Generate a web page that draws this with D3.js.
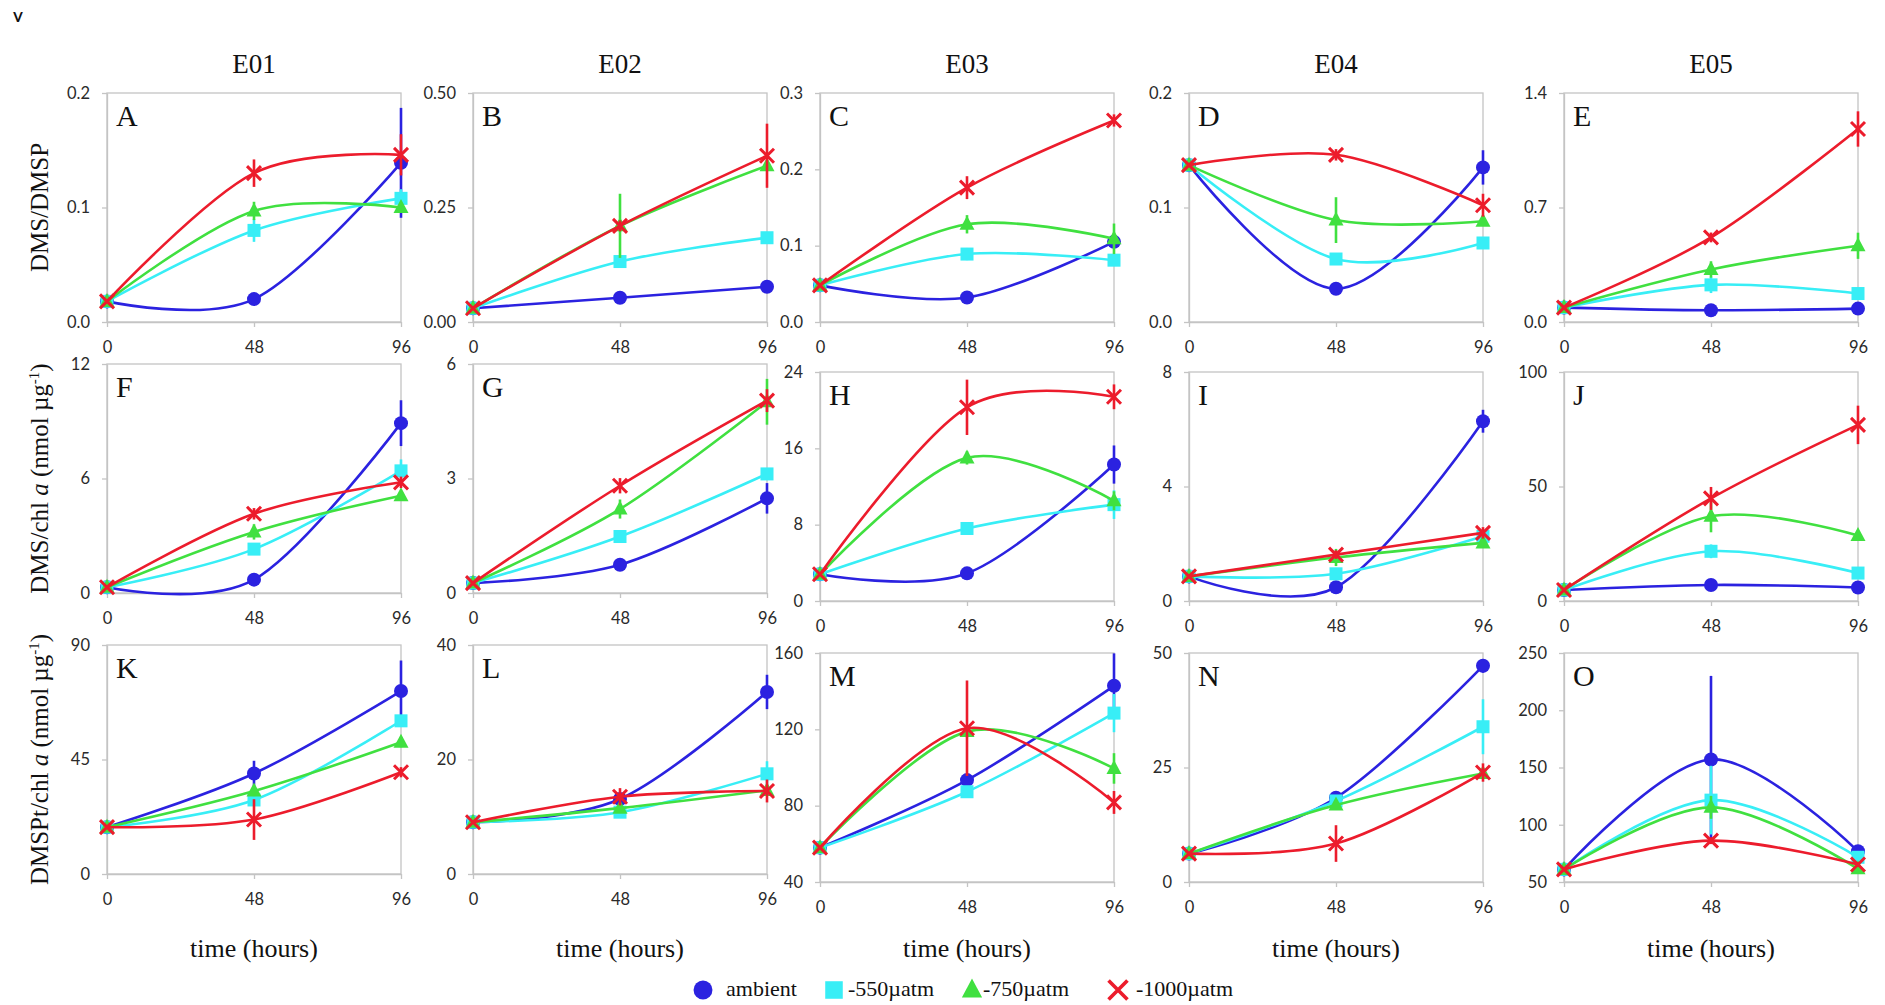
<!DOCTYPE html>
<html><head><meta charset="utf-8">
<script src="https://cdn.jsdelivr.net/npm/d3@7"></script>
<style>body{margin:0;background:#fff}svg{display:block}</style>
</head><body>
<svg id="chart" width="1885" height="1005"></svg>
<script>
// ---------------- data ----------------
const hours = [0, 48, 96];
const seriesNames = ["ambient", "-550µatm", "-750µatm", "-1000µatm"];
const experiments = ["E01", "E02", "E03", "E04", "E05"];
const panelLetters = [["A","B","C","D","E"],["F","G","H","I","J"],["K","L","M","N","O"]];

// Row 1: DMS/DMSP   (series order: ambient, -550, -750, -1000)
const valuesA = [[0.018,0.020,0.139],[0.018,0.080,0.108],[0.018,0.097,0.100],[0.018,0.130,0.146]];
const errorsA = [[0,0.003,0.048],[0,0.010,0.008],[0,0.008,0.004],[0,0.012,0.018]];
const ticksA = [0,0.1,0.2]; const tickLabelsA = ["0.0","0.1","0.2"];

const valuesB = [[0.03,0.053,0.077],[0.03,0.132,0.184],[0.03,0.21,0.341],[0.03,0.21,0.363]];
const errorsB = [[0,0.005,0.008],[0,0.008,0.010],[0,0.07,0.010],[0,0.012,0.07]];
const ticksB = [0,0.25,0.5]; const tickLabelsB = ["0.00","0.25","0.50"];

const valuesC = [[0.048,0.032,0.105],[0.048,0.089,0.081],[0.048,0.128,0.109],[0.048,0.176,0.264]];
const errorsC = [[0,0.004,0.008],[0,0.008,0.006],[0,0.012,0.020],[0,0.015,0.008]];
const ticksC = [0,0.1,0.2,0.3]; const tickLabelsC = ["0.0","0.1","0.2","0.3"];

const valuesD = [[0.137,0.029,0.135],[0.137,0.055,0.069],[0.137,0.089,0.088],[0.137,0.146,0.102]];
const errorsD = [[0,0.004,0.015],[0,0.005,0.004],[0,0.020,0.004],[0,0.005,0.010]];
const ticksD = [0,0.1,0.2]; const tickLabelsD = ["0.0","0.1","0.2"];

const valuesE = [[0.088,0.072,0.082],[0.088,0.227,0.174],[0.088,0.321,0.466],[0.088,0.517,1.18]];
const errorsE = [[0,0.01,0.01],[0,0.05,0.02],[0,0.05,0.08],[0,0.03,0.108]];
const ticksE = [0,0.7,1.4]; const tickLabelsE = ["0.0","0.7","1.4"];

// Row 2: DMS/chl a
const valuesF = [[0.3,0.7,8.9],[0.3,2.3,6.4],[0.3,3.2,5.1],[0.3,4.15,5.8]];
const errorsF = [[0,0.1,1.2],[0,0.3,0.6],[0,0.4,0.2],[0,0.3,0.3]];
const ticksF = [0,6,12]; const tickLabelsF = ["0","6","12"];

const valuesG = [[0.26,0.74,2.48],[0.26,1.48,3.12],[0.26,2.2,5.01],[0.26,2.81,5.04]];
const errorsG = [[0,0.05,0.4],[0,0.1,0.1],[0,0.25,0.6],[0,0.2,0.3]];
const ticksG = [0,3,6]; const tickLabelsG = ["0","3","6"];

const valuesH = [[2.8,2.9,14.3],[2.8,7.6,10.1],[2.8,15.0,10.5],[2.8,20.3,21.4]];
const errorsH = [[0,0.3,2.0],[0,0.6,1.5],[0,0.7,1.0],[0,2.9,1.3]];
const ticksH = [0,8,16,24]; const tickLabelsH = ["0","8","16","24"];

const valuesI = [[0.86,0.48,6.28],[0.86,0.95,2.26],[0.86,1.52,2.03],[0.86,1.62,2.38]];
const errorsI = [[0,0.1,0.4],[0,0.1,0.25],[0,0.3,0.1],[0,0.15,0.2]];
const ticksI = [0,4,8]; const tickLabelsI = ["0","4","8"];

const valuesJ = [[4.8,7.0,5.9],[4.8,21.7,12.2],[4.8,37.0,28.6],[4.8,44.8,76.9]];
const errorsJ = [[0,1,1],[0,3,1],[0,7,2],[0,5,8.4]];
const ticksJ = [0,50,100]; const tickLabelsJ = ["0","50","100"];

// Row 3: DMSPt/chl a
const valuesK = [[18.4,39.5,71.9],[18.4,29.1,60.2],[18.4,32.6,51.8],[18.4,21.4,40.0]];
const errorsK = [[0,5,12],[0,2,2],[0,2,2],[0,8,2]];
const ticksK = [0,45,90]; const tickLabelsK = ["0","45","90"];

const valuesL = [[9.05,13.1,31.8],[9.05,10.8,17.5],[9.05,11.5,14.6],[9.05,13.5,14.5]];
const errorsL = [[0,1,3],[0,0.5,2.2],[0,0.8,0.8],[0,1.5,2]];
const ticksL = [0,20,40]; const tickLabelsL = ["0","20","40"];

const valuesM = [[58,93.4,142.8],[58,87.3,128.5],[58,118.8,99.5],[58,120.6,81.7]];
const errorsM = [[0,3,17],[0,2,10],[0,3,8],[0,25,6]];
const ticksM = [40,80,120,160]; const tickLabelsM = ["40","80","120","160"];

const valuesN = [[6.2,18.4,47.2],[6.2,17.7,33.9],[6.2,16.8,23.7],[6.2,8.4,23.9]];
const errorsN = [[0,1,1.5],[0,1,6],[0,1,1],[0,4,2]];
const ticksN = [0,25,50]; const tickLabelsN = ["0","25","50"];

const valuesO = [[61,157,76.8],[61,121.5,71.6],[61,115.2,61.5],[61,86.1,65.3]];
const errorsO = [[0,73,3],[0,30,3],[0,10,2],[0,3,2]];
const ticksO = [50,100,150,200,250]; const tickLabelsO = ["50","100","150","200","250"];

const panelRows = [
  [[valuesA,errorsA,ticksA,tickLabelsA],[valuesB,errorsB,ticksB,tickLabelsB],[valuesC,errorsC,ticksC,tickLabelsC],[valuesD,errorsD,ticksD,tickLabelsD],[valuesE,errorsE,ticksE,tickLabelsE]],
  [[valuesF,errorsF,ticksF,tickLabelsF],[valuesG,errorsG,ticksG,tickLabelsG],[valuesH,errorsH,ticksH,tickLabelsH],[valuesI,errorsI,ticksI,tickLabelsI],[valuesJ,errorsJ,ticksJ,tickLabelsJ]],
  [[valuesK,errorsK,ticksK,tickLabelsK],[valuesL,errorsL,ticksL,tickLabelsL],[valuesM,errorsM,ticksM,tickLabelsM],[valuesN,errorsN,ticksN,tickLabelsN],[valuesO,errorsO,ticksO,tickLabelsO]]
];

// ---------------- layout & style ----------------
const colLeft = [107, 473, 820, 1189, 1564];
const rowTopLeftCols = [93, 364, 645];
const rowTopRightCols = [93, 372, 653];
const panelW = 294, panelH = 229;
const colors = ["#2b22e0", "#38eef6", "#40e040", "#ec1c2c"];
const serif = "'Liberation Serif','Times New Roman',serif";
const sans = "Lato,'Open Sans',sans-serif";
const gridGray = "#c4c4c4";

const svg = d3.select("#chart");

svg.append("text").attr("x", 13).attr("y", 22).text("v")
  .attr("font-family", sans).attr("font-size", 19).attr("font-weight", 600).attr("fill", "#111");

function drawMarker(g, kind, cx, cy, color, s) {
  if (kind === 0) {
    g.append("circle").attr("cx", cx).attr("cy", cy).attr("r", 7 * s).attr("fill", color);
  } else if (kind === 1) {
    g.append("rect").attr("x", cx - 6.5 * s).attr("y", cy - 6.5 * s)
      .attr("width", 13 * s).attr("height", 13 * s).attr("fill", color);
  } else if (kind === 2) {
    g.append("path").attr("transform", `translate(${cx},${cy}) scale(${s})`)
      .attr("d", "M0,-8.5L7.5,5.5L-7.5,5.5Z").attr("fill", color);
  } else {
    const h = 7 * s;
    g.append("path").attr("d", `M${cx-h},${cy-h}L${cx+h},${cy+h}M${cx-h},${cy+h}L${cx+h},${cy-h}`)
      .attr("stroke", color).attr("stroke-width", 3 * Math.max(1, s * 0.9)).attr("fill", "none");
  }
}

const lineGen = d3.line().curve(d3.curveCardinal.tension(0));

panelRows.forEach((row, r) => {
  row.forEach((panel, c) => {
    const [vals, errs, ticks, tickLabels] = panel;
    const left = colLeft[c];
    const top = (c < 2 ? rowTopLeftCols : rowTopRightCols)[r];
    const x = d3.scaleLinear().domain([0, 96]).range([left, left + panelW]);
    const y = d3.scaleLinear().domain([ticks[0], ticks[ticks.length - 1]]).range([top + panelH, top]);
    const g = svg.append("g");

    // frame
    g.append("rect").attr("x", left).attr("y", top).attr("width", panelW).attr("height", panelH)
      .attr("fill", "none").attr("stroke", gridGray).attr("stroke-width", 1.3);

    const yAxis = d3.axisLeft(y).tickValues(ticks).tickFormat((d, i) => tickLabels[i])
      .tickSize(5).tickSizeOuter(0).tickPadding(12);
    const ya = g.append("g").attr("transform", `translate(${left},0)`).call(yAxis);
    const xAxis = d3.axisBottom(x).tickValues(hours).tickFormat(d => String(d))
      .tickSize(5).tickSizeOuter(0).tickPadding(14);
    const xa = g.append("g").attr("transform", `translate(0,${top + panelH})`).call(xAxis);
    [ya, xa].forEach(a => {
      a.select(".domain").attr("stroke", gridGray).attr("stroke-width", 1.3);
      a.selectAll(".tick line").attr("stroke", gridGray).attr("stroke-width", 1.3);
      a.selectAll(".tick text").attr("font-family", sans).attr("font-size", 16.5).attr("fill", "#2a2a2a");
    });

    // panel letter
    g.append("text").attr("x", left + 9).attr("y", top + 33).text(panelLetters[r][c])
      .attr("font-family", serif).attr("font-size", 30).attr("fill", "#111");

    // series
    vals.forEach((sv, si) => {
      const col = colors[si];
      const pts = sv.map((v, i) => [x(hours[i]), y(v)]);
      g.append("path").attr("d", lineGen(pts)).attr("fill", "none")
        .attr("stroke", col).attr("stroke-width", 2.6);
      sv.forEach((v, i) => {
        const e = errs[si][i];
        if (e > 0) {
          g.append("line").attr("x1", x(hours[i])).attr("x2", x(hours[i]))
            .attr("y1", y(v - e)).attr("y2", y(v + e))
            .attr("stroke", col).attr("stroke-width", 2.6);
        }
      });
      sv.forEach((v, i) => drawMarker(g, si, x(hours[i]), y(v), col, 1));
    });

    // column titles
    if (r === 0) {
      svg.append("text").attr("x", left + panelW / 2).attr("y", 73).attr("text-anchor", "middle")
        .text(experiments[c]).attr("font-family", serif).attr("font-size", 27).attr("fill", "#111");
    }
    if (r === 2) {
      svg.append("text").attr("x", left + panelW / 2).attr("y", 957).attr("text-anchor", "middle")
        .text("time (hours)").attr("font-family", serif).attr("font-size", 26).attr("fill", "#111");
    }
  });
});

// row (y-axis) titles
const rowTitleCenters = rowTopLeftCols.map(t => t + panelH / 2);
function rowTitle(cy, parts) {
  const t = svg.append("text").attr("transform", `translate(48,${cy}) rotate(-90)`)
    .attr("text-anchor", "middle").attr("font-family", serif).attr("font-size", 25).attr("fill", "#111");
  parts.forEach(p => {
    const ts = t.append("tspan").text(p.t);
    if (p.i) ts.attr("font-style", "italic");
    if (p.sup) ts.attr("font-size", 15).attr("dy", -9);
    if (p.down) ts.attr("dy", 9);
  });
}
rowTitle(rowTitleCenters[0], [{t: "DMS/DMSP"}]);
rowTitle(rowTitleCenters[1], [{t: "DMS/chl "}, {t: "a", i: true}, {t: " (nmol µg"}, {t: "-1", sup: true}, {t: ")", down: true}]);
rowTitle(rowTitleCenters[2], [{t: "DMSPt/chl "}, {t: "a", i: true}, {t: " (nmol µg"}, {t: "-1", sup: true}, {t: ")", down: true}]);

// legend
const legendMarkerX = [703, 834, 972, 1118];
const legendTextX = [726, 848, 983, 1136];
const legendY = 990;
const lg = svg.append("g");
seriesNames.forEach((name, i) => {
  drawMarker(lg, i, legendMarkerX[i], legendY, colors[i], 1.35);
  lg.append("text").attr("x", legendTextX[i]).attr("y", legendY + 6).text(name)
    .attr("font-family", serif).attr("font-size", 22).attr("fill", "#111");
});
</script>
</body></html>
